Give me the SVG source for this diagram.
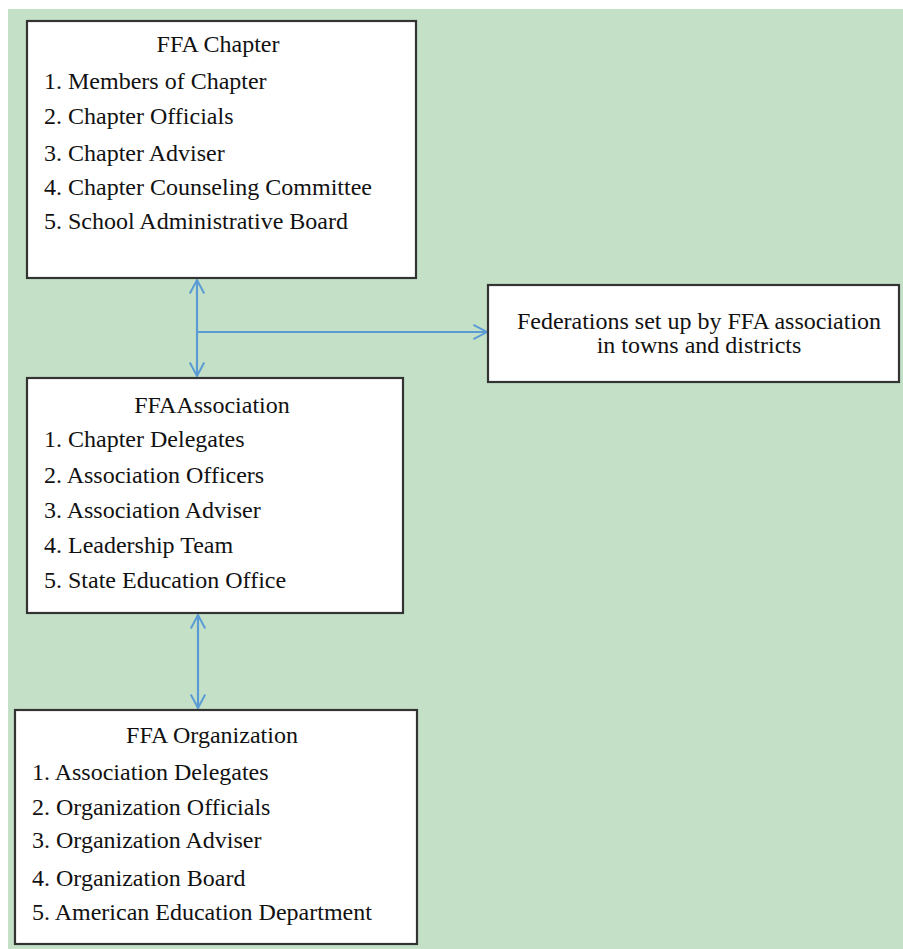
<svg xmlns="http://www.w3.org/2000/svg" width="903" height="949" viewBox="0 0 903 949">
<defs>
<style>
.box{fill:#ffffff;stroke:#333333;stroke-width:2.2}
.t{font-family:"Liberation Serif","Times New Roman",serif;font-size:24px;fill:#111111}
.c{text-anchor:middle}
.conn{stroke:#5b9bd5;stroke-width:2.2;fill:none}
</style>
<marker id="arr" viewBox="0 0 20 20" refX="18" refY="10" markerWidth="18" markerHeight="18" markerUnits="userSpaceOnUse" orient="auto-start-reverse">
<path d="M3,2 L18,10 L3,18" fill="none" stroke="#5b9bd5" stroke-width="2.2"/>
</marker>
</defs>
<rect x="0" y="0" width="903" height="949" fill="#ffffff"/>
<rect x="8" y="9" width="895" height="940" fill="#c4e1c7"/>
<g id="connectors">
<line class="conn" x1="197" y1="280" x2="197" y2="376" marker-start="url(#arr)" marker-end="url(#arr)"/>
<line class="conn" x1="197" y1="332" x2="487" y2="332" marker-end="url(#arr)"/>
<line class="conn" x1="198" y1="615" x2="198" y2="708" marker-start="url(#arr)" marker-end="url(#arr)"/>
</g>
<g id="chapter">
<rect class="box" x="27" y="21" width="389" height="257"/>
<text class="t c" x="218" y="52">FFA Chapter</text>
<text class="t" x="44" y="89">1. Members of Chapter</text>
<text class="t" x="44" y="124">2. Chapter Officials</text>
<text class="t" x="44" y="161">3. Chapter Adviser</text>
<text class="t" x="44" y="195">4. Chapter Counseling Committee</text>
<text class="t" x="44" y="229">5. School Administrative Board</text>
</g>
<g id="federations">
<rect class="box" x="488" y="285" width="411" height="97"/>
<text class="t c" x="699" y="329">Federations set up by FFA association</text>
<text class="t c" x="699" y="353">in towns and districts</text>
</g>
<g id="association">
<rect class="box" x="27" y="378" width="376" height="235"/>
<text class="t c" x="212" y="413">FFAAssociation</text>
<text class="t" x="44" y="447">1. Chapter Delegates</text>
<text class="t" x="44" y="483">2. Association Officers</text>
<text class="t" x="44" y="518">3. Association Adviser</text>
<text class="t" x="44" y="553">4. Leadership Team</text>
<text class="t" x="44" y="588">5. State Education Office</text>
</g>
<g id="organization">
<rect class="box" x="15" y="710" width="402" height="234"/>
<text class="t c" x="212" y="743">FFA Organization</text>
<text class="t" x="32" y="780">1. Association Delegates</text>
<text class="t" x="32" y="815">2. Organization Officials</text>
<text class="t" x="32" y="848">3. Organization Adviser</text>
<text class="t" x="32" y="886">4. Organization Board</text>
<text class="t" x="32" y="920">5. American Education Department</text>
</g>
</svg>
